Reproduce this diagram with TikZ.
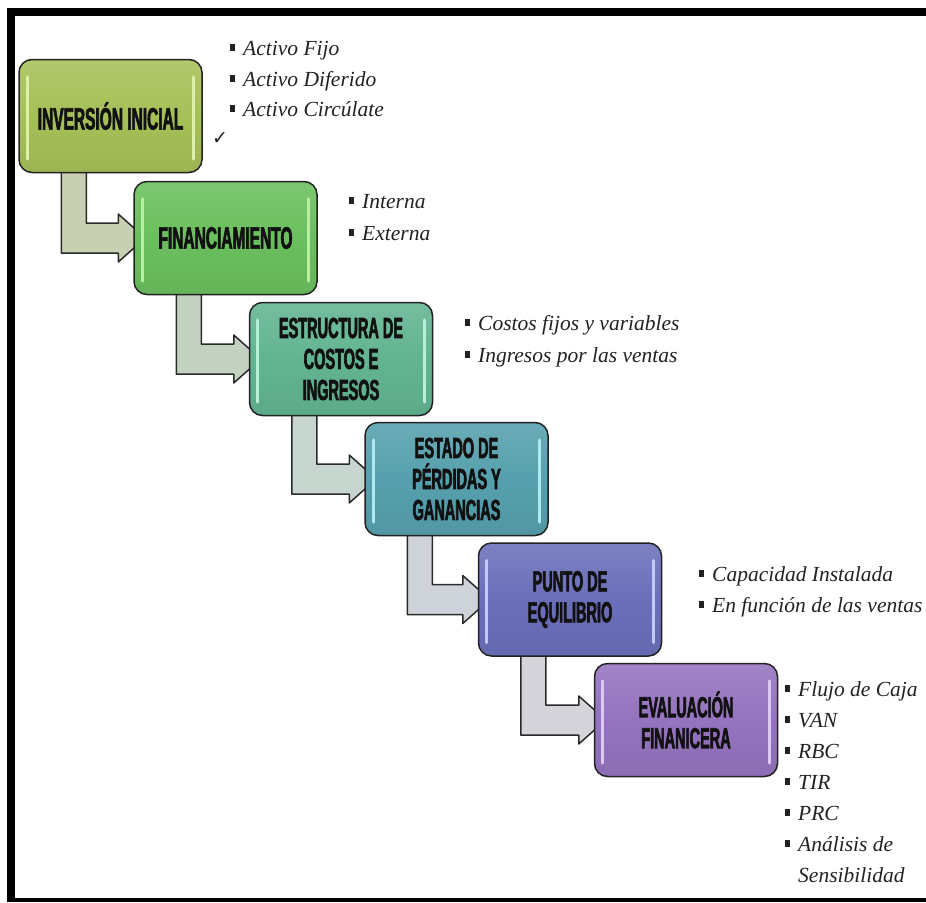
\documentclass[tikz,border=0pt]{standalone}
\usepackage{fontspec}
\setmainfont{Liberation Serif}
\newfontfamily\boxfont[FakeStretch=0.5,FakeBold=2]{Liberation Sans Bold}
\newfontfamily\symfont{DejaVu Sans}
\usetikzlibrary{calc,backgrounds}

% box fills, gloss stripes and arrow fills
\definecolor{invA}{HTML}{A6C058}\definecolor{invG}{HTML}{DDEFA8}
\definecolor{finA}{HTML}{6BBF5E}\definecolor{finG}{HTML}{B8F0A0}
\definecolor{estA}{HTML}{62B491}\definecolor{estG}{HTML}{B5F0D8}
\definecolor{pygA}{HTML}{56A0AD}\definecolor{pygG}{HTML}{B0E8F0}
\definecolor{peqA}{HTML}{6B6FBA}\definecolor{peqG}{HTML}{C4C8F4}
\definecolor{evaA}{HTML}{9573BF}\definecolor{evaG}{HTML}{DCC8F4}
\definecolor{boxedge}{HTML}{222222}
\definecolor{boxtext}{HTML}{111111}
\definecolor{itemtext}{HTML}{222222}
\definecolor{arrowedge}{HTML}{2A2A2A}
\definecolor{arrA}{HTML}{C8D0B4}
\definecolor{arrB}{HTML}{C3D2C0}
\definecolor{arrC}{HTML}{C6D6CF}
\definecolor{arrD}{HTML}{CDD3D9}
\definecolor{arrE}{HTML}{D4D4DA}

\tikzset{
  stepbox/.style={draw=boxedge, line width=1.5pt, rounded corners=13pt,
    minimum width=183pt, minimum height=113pt, align=center,
    text=boxtext, inner sep=0pt,
    top color=#1!88!white, bottom color=#1!94!black, middle color=#1},
  oneline/.style={font=\boxfont\fontsize{31}{32}\selectfont},
  multiline/.style={font=\boxfont\fontsize{29}{31}\selectfont},
  item/.style={anchor=base west, inner sep=0pt,
    font=\fontsize{21.5}{31}\selectfont\itshape, text=itemtext},
  connector/.style={draw=arrowedge, line width=1.5pt, line join=round},
  gloss/.style={line width=2.6pt, line cap=round},
}

% square list bullet hanging left of the item text
\newcommand\bul{\llap{\rule[4.5pt]{5.5pt}{6.5pt}\hspace{8pt}}}

% light vertical stripes inside a box
\newcommand\boxgloss[2]{%
  \draw[gloss, #2] ([xshift=9pt,yshift=-18pt]#1.north west) -- ([xshift=9pt,yshift=14pt]#1.south west);
  \draw[gloss, #2] ([xshift=-9pt,yshift=-18pt]#1.north east) -- ([xshift=-9pt,yshift=14pt]#1.south east);}

% bent arrow from under one box into the left side of the next
\newcommand\bentarrow[3]{%
  \draw[connector, fill=#3] let \p1=(#1.south west), \p2=(#2.west) in
    (\x1+43pt,\y1+6pt) -- (\x1+43pt,\y2-15pt) -- (\x2-15pt,\y2-15pt)
    -- (\x2-15pt,\y2-24pt) -- (\x2+12pt,\y2) -- (\x2-15pt,\y2+24pt)
    -- (\x2-15pt,\y2+15pt) -- (\x1+68pt,\y2+15pt) -- (\x1+68pt,\y1+6pt) -- cycle;}

\begin{document}
\begin{tikzpicture}[x=1pt,y=-1pt]
\useasboundingbox (0,0) rectangle (926,902);

% process steps
\node[stepbox=invA, oneline]   (inv) at (110.5,116) {INVERSIÓN INICIAL};
\node[stepbox=finA, oneline]   (fin) at (225.5,238) {FINANCIAMIENTO};
\node[stepbox=estA, multiline] (est) at (341,359)   {ESTRUCTURA DE\\COSTOS E\\INGRESOS};
\node[stepbox=pygA, multiline] (pyg) at (456.5,479) {ESTADO DE\\PÉRDIDAS Y\\GANANCIAS};
\node[stepbox=peqA, multiline] (peq) at (570,599.5) {PUNTO DE\\EQUILIBRIO};
\node[stepbox=evaA, multiline] (eva) at (686,720)   {EVALUACIÓN\\FINANICERA};

\boxgloss{inv}{invG}
\boxgloss{fin}{finG}
\boxgloss{est}{estG}
\boxgloss{pyg}{pygG}
\boxgloss{peq}{peqG}
\boxgloss{eva}{evaG}

\begin{pgfonlayer}{background}
  \fill[white] (0,0) rectangle (926,902);
  \bentarrow{inv}{fin}{arrA}
  \bentarrow{fin}{est}{arrB}
  \bentarrow{est}{pyg}{arrC}
  \bentarrow{pyg}{peq}{arrD}
  \bentarrow{peq}{eva}{arrE}
\end{pgfonlayer}

% detail lists
\node[item] (fijo)     at (243,55)  {\bul Activo Fijo};
\node[item] (diferido) at (243,86)  {\bul Activo Diferido};
\node[item] (circ)     at (243,116) {\bul Activo Circúlate};
\node[anchor=base west, inner sep=0pt, text=itemtext,
      font=\symfont\fontsize{19}{19}\selectfont] (tick) at (212,144) {✓};

\node[item] (interna) at (362,208) {\bul Interna};
\node[item] (externa) at (362,240) {\bul Externa};

\node[item] (costos)   at (478,330) {\bul Costos fijos y variables};
\node[item] (ingresos) at (478,362) {\bul Ingresos por las ventas};

\node[item] (capac)   at (712,581) {\bul Capacidad Instalada};
\node[item] (funcion) at (712,612) {\bul En función de las ventas};

\node[item] (flujo) at (798,696) {\bul Flujo de Caja};
\node[item] (van)   at (798,727) {\bul VAN};
\node[item] (rbc)   at (798,758) {\bul RBC};
\node[item] (tir)   at (798,789) {\bul TIR};
\node[item] (prc)   at (798,820) {\bul PRC};
\node[item] (anal)  at (798,851) {\bul Análisis de};
\node[item] (sens)  at (798,882) {Sensibilidad};

% frame
\fill[black] (7,8) rectangle (926,16);
\fill[black] (7,8) rectangle (15,902);
\fill[black] (7,898) rectangle (926,902);
\end{tikzpicture}
\end{document}
